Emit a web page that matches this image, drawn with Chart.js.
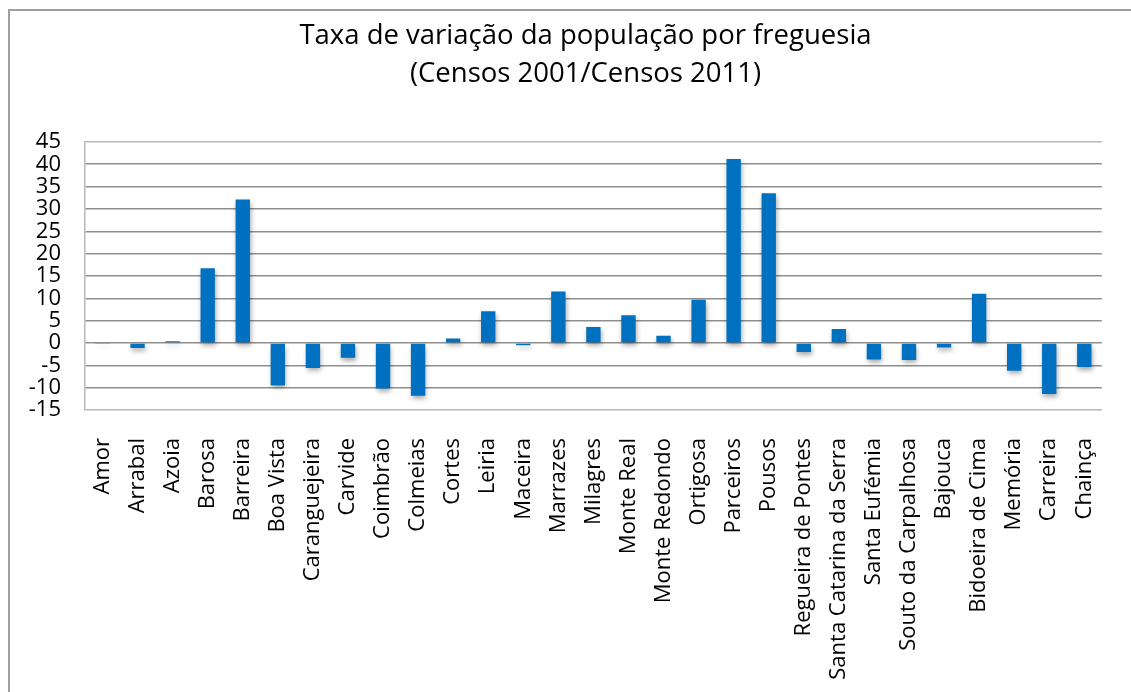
<!DOCTYPE html>
<html>
<head>
<meta charset="utf-8">
<script src="https://cdn.jsdelivr.net/npm/chart.js@4"></script>
<style>
  body { margin: 0; background: #fff; overflow: hidden; }
  #wrap { position: relative; width: 1131px; height: 692px; }
  #frame { position: absolute; left: 8px; top: 9px; width: 1200px; height: 800px;
           border-left: 2px solid #a0a0a0; border-top: 2px solid #a0a0a0; }
  canvas { position: absolute; left: 0; top: 0; }
</style>
</head>
<body>
<div id="wrap">
  <div id="frame"></div>
  <canvas id="chart" width="1131" height="692"></canvas>
</div>
<script>
// freguesias
const freguesias = [
    "Amor", "Arrabal", "Azoia", "Barosa", "Barreira", "Boa Vista", "Caranguejeira",
    "Carvide", "Coimbrão", "Colmeias", "Cortes", "Leiria", "Maceira", "Marrazes",
    "Milagres", "Monte Real", "Monte Redondo", "Ortigosa", "Parceiros", "Pousos",
    "Regueira de Pontes", "Santa Catarina da Serra", "Santa Eufémia",
    "Souto da Carpalhosa", "Bajouca", "Bidoeira de Cima", "Memória", "Carreira", "Chainça"
]
// taxa de variacao (%) 2001/2011
const taxaVariacao = [
    -0.1, -1.1, 0.4, 16.7, 32.1, -9.5, -5.6,
    -3.3, -10.2, -11.8, 1.0, 7.1, -0.5, 11.5,
    3.6, 6.2, 1.6, 9.7, 41.2, 33.5,
    -2.0, 3.1, -3.7,
    -3.8, -1.0, 11.0, -6.2, -11.4, -5.4
]
const yMin = -15
const yMax = 45
const yStep = 5
const tituloLinhas = ["Taxa de variação da população por freguesia", "(Censos 2001/Censos 2011)"]

const fonte = "'Open Sans', 'Liberation Sans', sans-serif"

// shadow under the bars, like the excel look
const barShadow = {
    id: 'barShadow',
    beforeDatasetsDraw(chart) {
        const ctx = chart.ctx
        ctx.save()
        ctx.shadowColor = 'rgba(0, 0, 0, 0.35)'
        ctx.shadowBlur = 5
        ctx.shadowOffsetX = 1
        ctx.shadowOffsetY = 3
    },
    afterDatasetsDraw(chart) {
        chart.ctx.restore()
    }
}

// title in the excel chart sits a bit right of the canvas centre
const titleShift = {
    id: 'titleShift',
    afterLayout(chart) {
        const t = chart.titleBlock
        if (t) {
            t.left += 29
            t.right += 29
        }
    }
}

const ctx = document.getElementById('chart').getContext('2d')
const grafico = new Chart(ctx, {
    type: 'bar',
    data: {
        labels: freguesias,
        datasets: [{
            data: taxaVariacao,
            backgroundColor: '#0070C0',
            borderWidth: 0,
            barPercentage: 0.41,
            categoryPercentage: 1
        }]
    },
    options: {
        responsive: false,
        animation: false,
        layout: {
            padding: { left: 0, right: 18, top: 0, bottom: 0 }
        },
        plugins: {
            legend: { display: false },
            tooltip: { enabled: false },
            title: {
                display: true,
                text: tituloLinhas,
                color: '#000',
                font: { family: fonte, size: 27.5, weight: 'normal', lineHeight: 1.38 },
                padding: { top: 17, bottom: 49 }
            }
        },
        scales: {
            x: {
                grid: { display: false },
                border: { display: false },
                ticks: {
                    autoSkip: false,
                    maxRotation: 90,
                    minRotation: 90,
                    padding: 20,
                    color: '#000',
                    font: { family: fonte, size: 22 }
                },
                afterFit(scale) {
                    scale.height = 282
                }
            },
            y: {
                min: yMin,
                max: yMax,
                ticks: {
                    stepSize: yStep,
                    autoSkip: false,
                    padding: 24,
                    color: '#000',
                    font: { family: fonte, size: 22, lineHeight: 1 }
                },
                grid: {
                    drawTicks: false,
                    lineWidth: 1.5,
                    color: (c) => (c.tick && (c.tick.value === yMax || c.tick.value === yMin)) ? '#b8b8b8' : '#8f8f8f'
                },
                border: { display: true, color: '#b8b8b8', width: 1.5 },
                afterFit(scale) {
                    scale.width = 85
                }
            }
        }
    },
    plugins: [barShadow, titleShift]
})
</script>
</body>
</html>
